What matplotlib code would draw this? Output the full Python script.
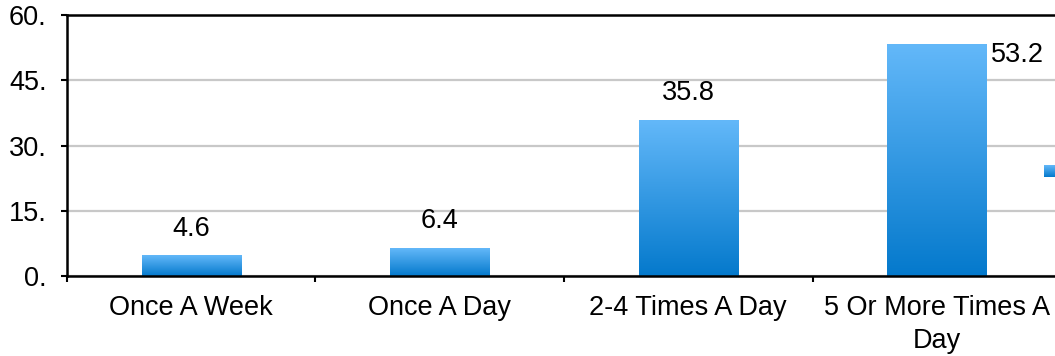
import matplotlib.pyplot as plt
import numpy as np
from matplotlib.colors import LinearSegmentedColormap

categories = ["Once A Week", "Once A Day", "2-4 Times A Day", "5 Or More Times A\nDay"]
values = [4.6, 6.4, 35.8, 53.2]
y_ticks = [0, 15, 30, 45, 60]
y_tick_labels = ["0.", "15.", "30.", "45.", "60."]

BAR_TOP = "#63b8f9"
BAR_BOTTOM = "#0479cc"

plt.rcParams["font.family"] = ["Liberation Sans", "DejaVu Sans"]
plt.rcParams["font.size"] = 19.5

blues = LinearSegmentedColormap.from_list("bar_blue", [BAR_BOTTOM, BAR_TOP])
grad = np.linspace(0, 1, 256).reshape(-1, 1)

fig = plt.figure(figsize=(10.55, 3.56), dpi=100)
ax = fig.add_axes([0.0635, 0.2247, 0.9422, 0.7331])

x = np.arange(len(categories))
bars = ax.bar(x, values, width=0.4, color="none", zorder=3)

# fill every bar with a vertical gradient, light on top
for b in bars:
    x0, w, h = b.get_x(), b.get_width(), b.get_height()
    ax.imshow(grad, cmap=blues, origin="lower", aspect="auto",
              extent=[x0, x0 + w, 0, h], zorder=3)

for xi, v in zip(x, values):
    if v > 50:
        ax.text(xi + 0.22, v - 2.3, f"{v}", ha="left", va="center", zorder=4)
    else:
        ax.text(xi, v + 6.2, f"{v}", ha="center", va="center", zorder=4)

ax.set_xlim(-0.5, len(categories) - 0.5)
ax.set_ylim(0, 60)
ax.set_yticks(y_ticks)
ax.set_yticklabels(y_tick_labels)
ax.set_xticks(x)
ax.set_xticklabels(categories, linespacing=1.35)
ax.set_xticks(np.arange(len(categories) + 1) - 0.5, minor=True)

ax.tick_params(axis="x", which="major", length=0, pad=14)
ax.tick_params(axis="x", which="minor", length=4, width=1.5, direction="out")
ax.tick_params(axis="y", length=4.5, width=1.5, pad=10)

ax.yaxis.grid(True, color="#c8c8c8", linewidth=1.6, zorder=0)
ax.set_axisbelow(True)
for side in ("left", "bottom", "top"):
    ax.spines[side].set_linewidth(1.8)
    ax.spines[side].set_zorder(5)
ax.spines["right"].set_visible(False)

# series key, mostly outside the canvas on the right
key = fig.add_axes([1044 / 1055, (356 - 177) / 356, 0.02, 12 / 356])
key.imshow(grad, cmap=blues, origin="lower", aspect="auto")
key.axis("off")

fig.savefig("out.png", dpi=100)
